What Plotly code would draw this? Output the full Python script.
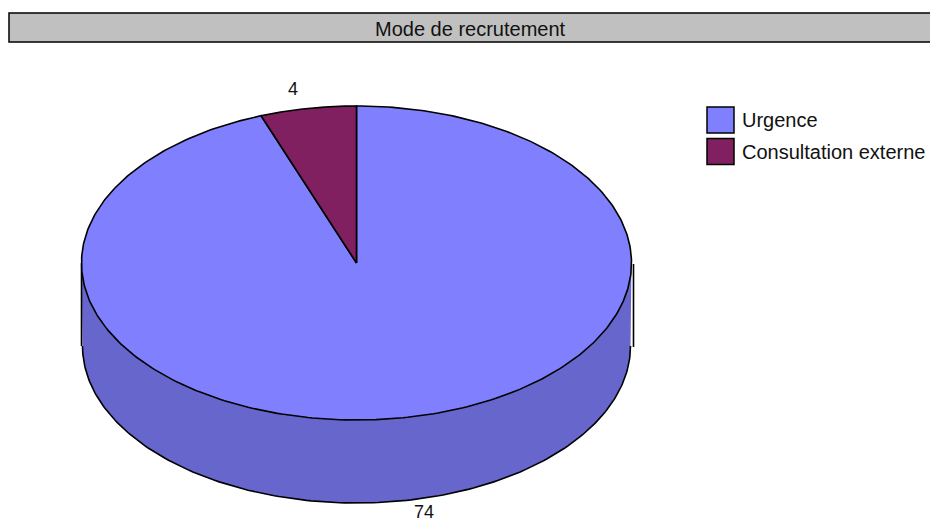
import numpy as np
import plotly.graph_objects as go

# Chart content
chart_title = "Mode de recrutement"
categories = ["Urgence", "Consultation externe"]
values = [74, 4]
top_colors = ["#8080FF", "#802060"]
side_color = "#6666CC"

# Projection of the disc on the page, in pixels
WIDTH, HEIGHT = 930, 523
CX, CY = 356.5, 263.0
RX, RY = 275.0, 157.0
BOTTOM_RX = 274.0
DEPTH = 83.0
VIEW_SKEW = 1.108  # foreshortening of angles seen from above
EDGE = dict(color="black", width=1.6)
FONT = dict(family="Liberation Sans, Arial, sans-serif", size=20, color="#111111")
LABEL_FONT = dict(family="Liberation Sans, Arial, sans-serif", size=18, color="#111111")

# Label offsets from the rim point of each slice's middle angle
label_offsets = [(19, 11.5), (-15, -19)]


def project(theta):
    """Map a clockwise-from-top pie angle to the ellipse parameter on the page."""
    theta = np.unwrap(np.asarray(theta, dtype=float))
    return np.arctan2(np.sin(theta) * VIEW_SKEW, np.cos(theta))


def rim(theta, cx=CX, cy=CY, rx=RX):
    t = project(theta)
    return cx + rx * np.sin(t), cy - RY * np.cos(t)


fig = go.Figure()


def add_path(x, y, fill=None, line=EDGE, closed=False):
    fig.add_trace(go.Scatter(
        x=x, y=y, mode="lines", line=line,
        fill="toself" if closed else None, fillcolor=fill,
        hoverinfo="skip", showlegend=False,
    ))


# Slice extents: the small slice ends at 12 o'clock, the large one wraps around
total = sum(values)
sweeps = [2 * np.pi * v / total for v in values]
small_start = -sweeps[1]
spans = [(0.0, 2 * np.pi + small_start), (small_start, 0.0)]

# Side wall of the visible front half
front = np.linspace(np.pi / 2, 3 * np.pi / 2, 200)
upper_x, upper_y = rim(front)
lower_x, lower_y = rim(front, cy=CY + DEPTH, rx=BOTTOM_RX)
add_path(
    np.concatenate([upper_x, lower_x[::-1]]),
    np.concatenate([upper_y, lower_y[::-1]]),
    fill=side_color, line=dict(width=0), closed=True,
)
add_path(lower_x, lower_y)
add_path([CX - RX, CX - RX], [CY, CY + DEPTH])
add_path([CX + RX + 2, CX + RX + 2], [CY + 1, CY + DEPTH + 1])

# Top face slices
for (start, stop), colour in zip(spans, top_colors):
    arc = np.linspace(start, stop, 400)
    ax, ay = rim(arc)
    add_path(
        np.concatenate([[CX], ax, [CX]]),
        np.concatenate([[CY], ay, [CY]]),
        fill=colour, closed=True,
    )

# Value labels
for (start, stop), value, (dx, dy) in zip(spans, values, label_offsets):
    mid = (start + stop) / 2
    lx, ly = rim(np.array([mid]))
    ly = ly + (DEPTH if np.cos(mid) < 0 else 0)
    fig.add_annotation(
        x=float(lx[0]) + dx, y=float(ly[0]) + dy, text=str(value), showarrow=False,
        font=LABEL_FONT, xanchor="center", yanchor="middle",
    )

# Legend keys
legend_x = 720.5
legend_rows = [120, 151.5]
for name, colour, row in zip(categories, top_colors, legend_rows):
    fig.add_shape(
        type="rect", x0=legend_x - 13.5, x1=legend_x + 13.5, y0=row - 13, y1=row + 13,
        fillcolor=colour, line=dict(color="black", width=1.5),
    )
    fig.add_annotation(
        x=739.5, y=row, text=name, showarrow=False, font=FONT,
        xanchor="left", yanchor="middle",
    )

# Title band running off the right side
fig.add_shape(
    type="rect", x0=9, x1=WIDTH + 20, y0=13, y1=42,
    fillcolor="#C0C0C0", line=dict(color="black", width=1.5),
)
fig.add_annotation(
    x=470, y=28.5, text=chart_title, showarrow=False, font=FONT,
    xanchor="center", yanchor="middle",
)

fig.update_layout(
    width=WIDTH, height=HEIGHT, autosize=False,
    margin=dict(l=0, r=0, t=0, b=0),
    paper_bgcolor="white", plot_bgcolor="white",
    xaxis=dict(range=[0, WIDTH], visible=False, fixedrange=True),
    yaxis=dict(range=[HEIGHT, 0], visible=False, fixedrange=True),
    showlegend=False,
)

fig.write_html("out.html", config=dict(displayModeBar=False))
